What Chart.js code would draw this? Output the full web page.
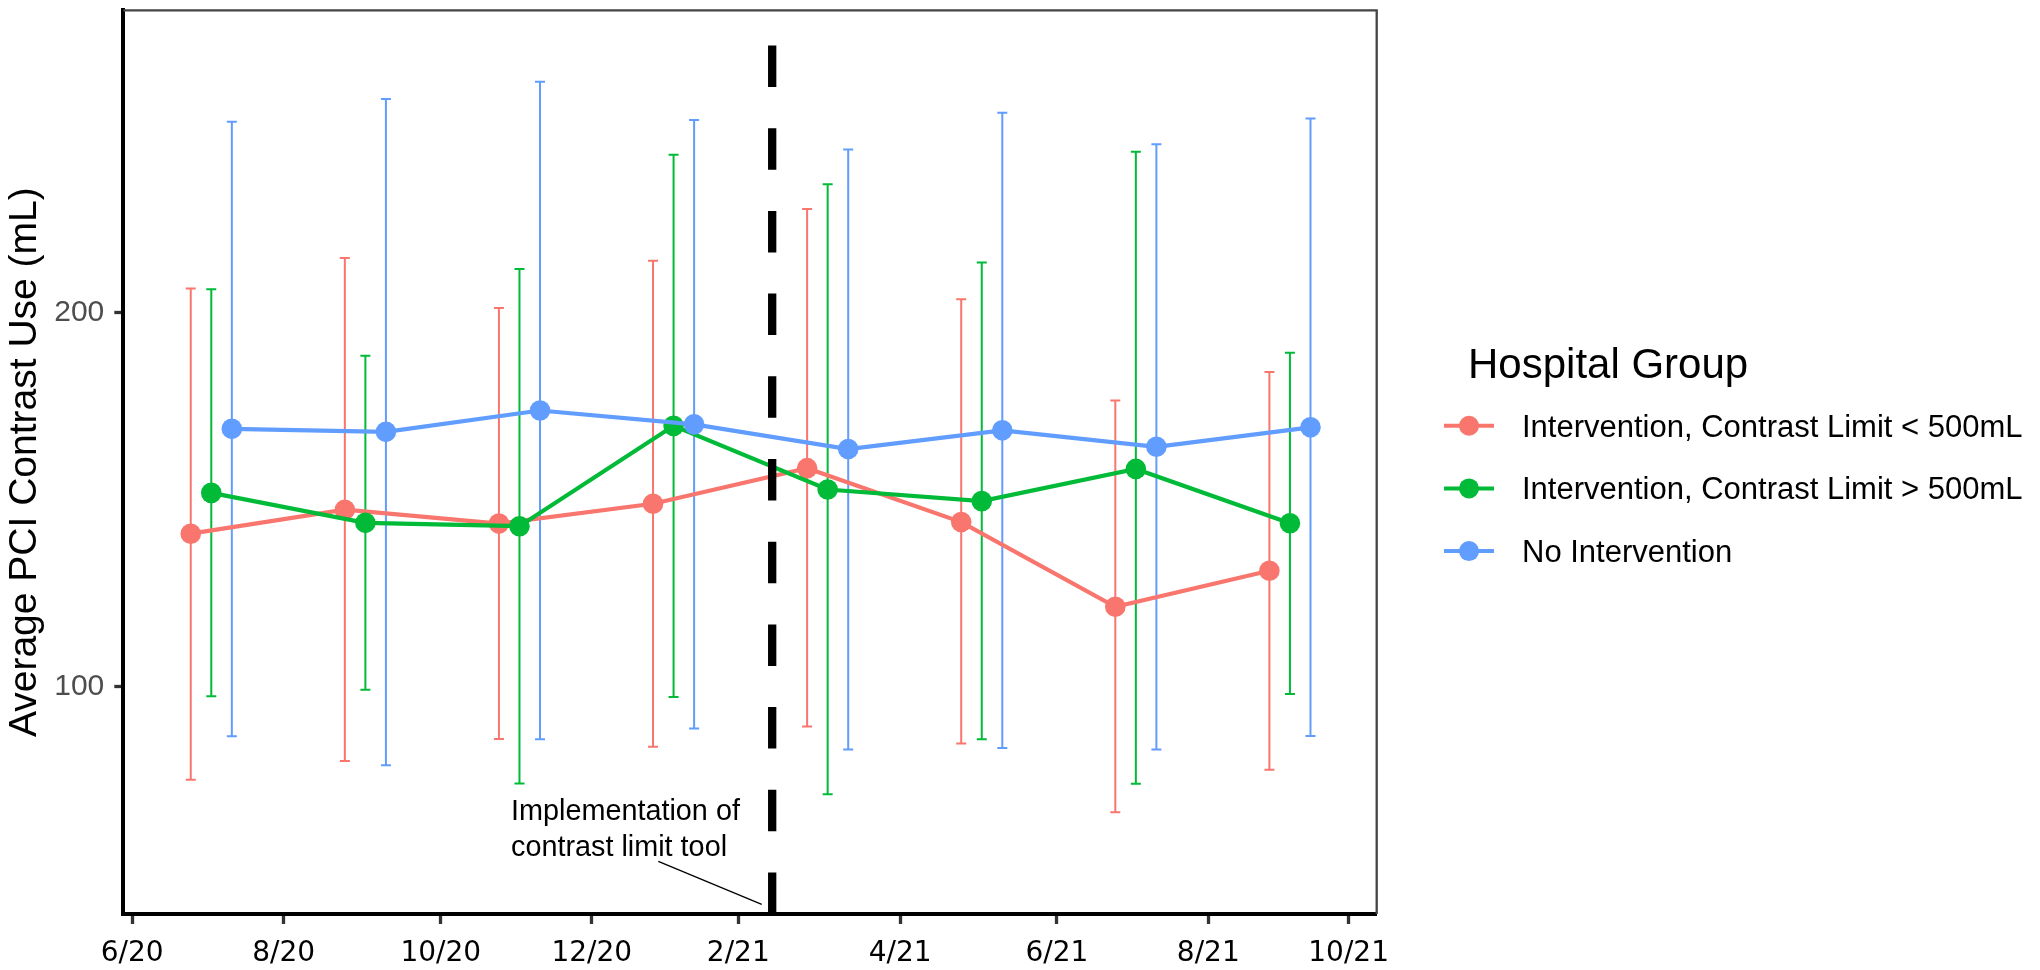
<!DOCTYPE html>
<html>
<head>
<meta charset="utf-8">
<script src="https://cdn.jsdelivr.net/npm/chart.js@4.4.0/dist/chart.umd.min.js"></script>
<style>
  html, body { margin: 0; padding: 0; background: #fff; }
</style>
</head>
<body>
<canvas id="chart" width="2040" height="970"></canvas>
<script>
// bimonthly periods (centre of each group), groups are dodged around it
const periods = [1, 2, 3, 4, 5, 6, 7, 8];
const dodge = [-0.1333, 0, 0.1333];

const groupNames = [
  "Intervention, Contrast Limit < 500mL",
  "Intervention, Contrast Limit > 500mL",
  "No Intervention",
];
const groupColors = ["#F8766D", "#00BA38", "#619CFF"];

const lowMean = [140.9, 147.3, 143.6, 148.9, 158.4, 144.0, 121.4, 131.0];
const lowUpper = [206.4, 214.5, 201.2, 213.8, 227.6, 203.5, 176.5, 184.1];
const lowLower = [75.2, 80.2, 86.1, 84.0, 89.4, 84.9, 66.5, 77.9];

const highMean = [151.8, 143.8, 142.9, 169.7, 152.7, 149.6, 158.2, 143.7];
const highUpper = [206.2, 188.4, 211.6, 242.1, 234.2, 213.3, 242.9, 189.2];
const highLower = [97.5, 99.2, 74.2, 97.3, 71.3, 86.0, 74.1, 98.1];

const noneMean = [168.9, 168.1, 173.8, 170.1, 163.5, 168.5, 164.1, 169.3];
const noneUpper = [250.9, 257.0, 261.6, 251.4, 243.5, 253.3, 244.9, 251.8];
const noneLower = [86.8, 79.1, 86.0, 88.9, 83.3, 83.7, 83.3, 86.9];

const xTickPos = [0.487, 1.47, 2.489, 3.469, 4.42, 5.471, 6.488, 7.47, 8.381];
const xTickLabels = ["6/20", "8/20", "10/20", "12/20", "2/21", "4/21", "6/21", "8/21", "10/21"];
const yTickPos = [100, 200];

const implementationAt = 4.64;

const means = [lowMean, highMean, noneMean];
const uppers = [lowUpper, highUpper, noneUpper];
const lowers = [lowLower, highLower, noneLower];

const datasets = groupNames.map((name, g) => ({
  label: name,
  data: periods.map((p, i) => ({ x: p + dodge[g], y: means[g][i] })),
  borderColor: groupColors[g],
  backgroundColor: groupColors[g],
  borderWidth: 4.2,
  pointRadius: 10.3,
  pointHoverRadius: 10.3,
  pointBorderWidth: 0,
  order: 2 - g, // blue on top
  errHigh: uppers[g],
  errLow: lowers[g],
}));

const errorBars = {
  id: "errorBars",
  beforeDatasetsDraw(chart) {
    const ctx = chart.ctx;
    const xs = chart.scales.x;
    const ys = chart.scales.y;
    ctx.save();
    ctx.lineWidth = 2;
    chart.data.datasets.forEach((ds) => {
      ctx.strokeStyle = ds.borderColor;
      ds.data.forEach((pt, i) => {
        const px = xs.getPixelForValue(pt.x);
        const top = ys.getPixelForValue(ds.errHigh[i]);
        const bot = ys.getPixelForValue(ds.errLow[i]);
        ctx.beginPath();
        ctx.moveTo(px, top);
        ctx.lineTo(px, bot);
        ctx.moveTo(px - 5, top);
        ctx.lineTo(px + 5, top);
        ctx.moveTo(px - 5, bot);
        ctx.lineTo(px + 5, bot);
        ctx.stroke();
      });
    });
    ctx.restore();
  },
};

const implementation = {
  id: "implementation",
  afterDatasetsDraw(chart) {
    const ctx = chart.ctx;
    const xs = chart.scales.x;
    const ys = chart.scales.y;
    const area = chart.chartArea;
    const x = xs.getPixelForValue(implementationAt);
    ctx.save();
    ctx.strokeStyle = "#000";
    ctx.lineWidth = 8.3;
    ctx.setLineDash([41.5, 41.2]);
    ctx.beginPath();
    ctx.moveTo(x, area.bottom);
    ctx.lineTo(x, area.top);
    ctx.stroke();
    ctx.setLineDash([]);

    // label + leader line
    ctx.fillStyle = "#000";
    ctx.font = "28.8px 'Liberation Sans', Arial, sans-serif";
    ctx.textAlign = "left";
    ctx.textBaseline = "alphabetic";
    const tx = xs.getPixelForValue(2.945);
    ctx.fillText("Implementation of", tx, ys.getPixelForValue(64.5));
    ctx.fillText("contrast limit tool", tx, ys.getPixelForValue(54.9));
    ctx.lineWidth = 1.3;
    ctx.beginPath();
    ctx.moveTo(xs.getPixelForValue(3.901), ys.getPixelForValue(53.4));
    ctx.lineTo(xs.getPixelForValue(4.572), ys.getPixelForValue(41.9));
    ctx.stroke();
    ctx.restore();
  },
  afterDraw(chart) {
    const ctx = chart.ctx;
    const area = chart.chartArea;
    ctx.save();
    // thin panel border on top and right
    ctx.strokeStyle = "#444";
    ctx.lineWidth = 2.3;
    ctx.beginPath();
    ctx.moveTo(area.left, area.top);
    ctx.lineTo(area.right, area.top);
    ctx.lineTo(area.right, area.bottom);
    ctx.stroke();

    // legend
    ctx.fillStyle = "#000";
    ctx.textAlign = "left";
    ctx.textBaseline = "alphabetic";
    ctx.font = "42px 'Liberation Sans', Arial, sans-serif";
    ctx.fillText("Hospital Group", 1468, 378);
    ctx.font = "31px 'Liberation Sans', Arial, sans-serif";
    chart.data.datasets.forEach((ds, i) => {
      const y = 425.7 + i * 62.7;
      ctx.strokeStyle = ds.borderColor;
      ctx.fillStyle = ds.borderColor;
      ctx.lineWidth = 4;
      ctx.beginPath();
      ctx.moveTo(1444, y);
      ctx.lineTo(1494, y);
      ctx.stroke();
      ctx.beginPath();
      ctx.arc(1469, y, 10, 0, Math.PI * 2);
      ctx.fill();
      ctx.fillStyle = "#000";
      ctx.fillText(ds.label, 1522, y + 11);
    });
    ctx.restore();
  },
};

const ctx = document.getElementById("chart").getContext("2d");
const myChart = new Chart(ctx, {
  type: "line",
  data: { datasets: datasets },
  options: {
    responsive: false,
    animation: false,
    devicePixelRatio: 1,
    layout: { padding: { left: 0, top: 5.7, right: 663.3, bottom: 0 } },
    plugins: { legend: { display: false }, tooltip: { enabled: false } },
    scales: {
      x: {
        type: "linear",
        min: 0.429,
        max: 8.563,
        afterBuildTicks: (s) => {
          s.ticks = xTickPos.map((v) => ({ value: v }));
        },
        afterFit: (s) => {
          s.height = 56;
          s.paddingLeft = 0;
          s.paddingRight = 0;
        },
        ticks: {
          autoSkip: false,
          maxRotation: 0,
          padding: 13,
          color: "#000",
          font: { family: "'DejaVu Sans'", size: 28 },
          callback: (v, i) => xTickLabels[i],
        },
        grid: {
          drawOnChartArea: false,
          drawTicks: true,
          tickLength: 10,
          tickWidth: 3.3,
          tickColor: "#333",
        },
        border: { display: true, color: "#000", width: 4 },
      },
      y: {
        type: "linear",
        min: 39.35,
        max: 280.66,
        afterBuildTicks: (s) => {
          s.ticks = yTickPos.map((v) => ({ value: v }));
        },
        afterFit: (s) => {
          s.width = 123.3;
          s.paddingTop = 0;
          s.paddingBottom = 0;
        },
        ticks: {
          padding: 10,
          color: "#4D4D4D",
          font: { family: "'Liberation Sans'", size: 30 },
          callback: (v) => String(v),
        },
        grid: {
          drawOnChartArea: false,
          drawTicks: true,
          tickLength: 9,
          tickWidth: 3.3,
          tickColor: "#333",
        },
        border: { display: true, color: "#000", width: 4 },
        title: {
          display: true,
          text: "Average PCI Contrast Use (mL)",
          color: "#000",
          font: { family: "'Liberation Sans'", size: 39 },
          padding: { top: 2, bottom: 0 },
        },
      },
    },
  },
  plugins: [errorBars, implementation],
});
</script>
</body>
</html>
